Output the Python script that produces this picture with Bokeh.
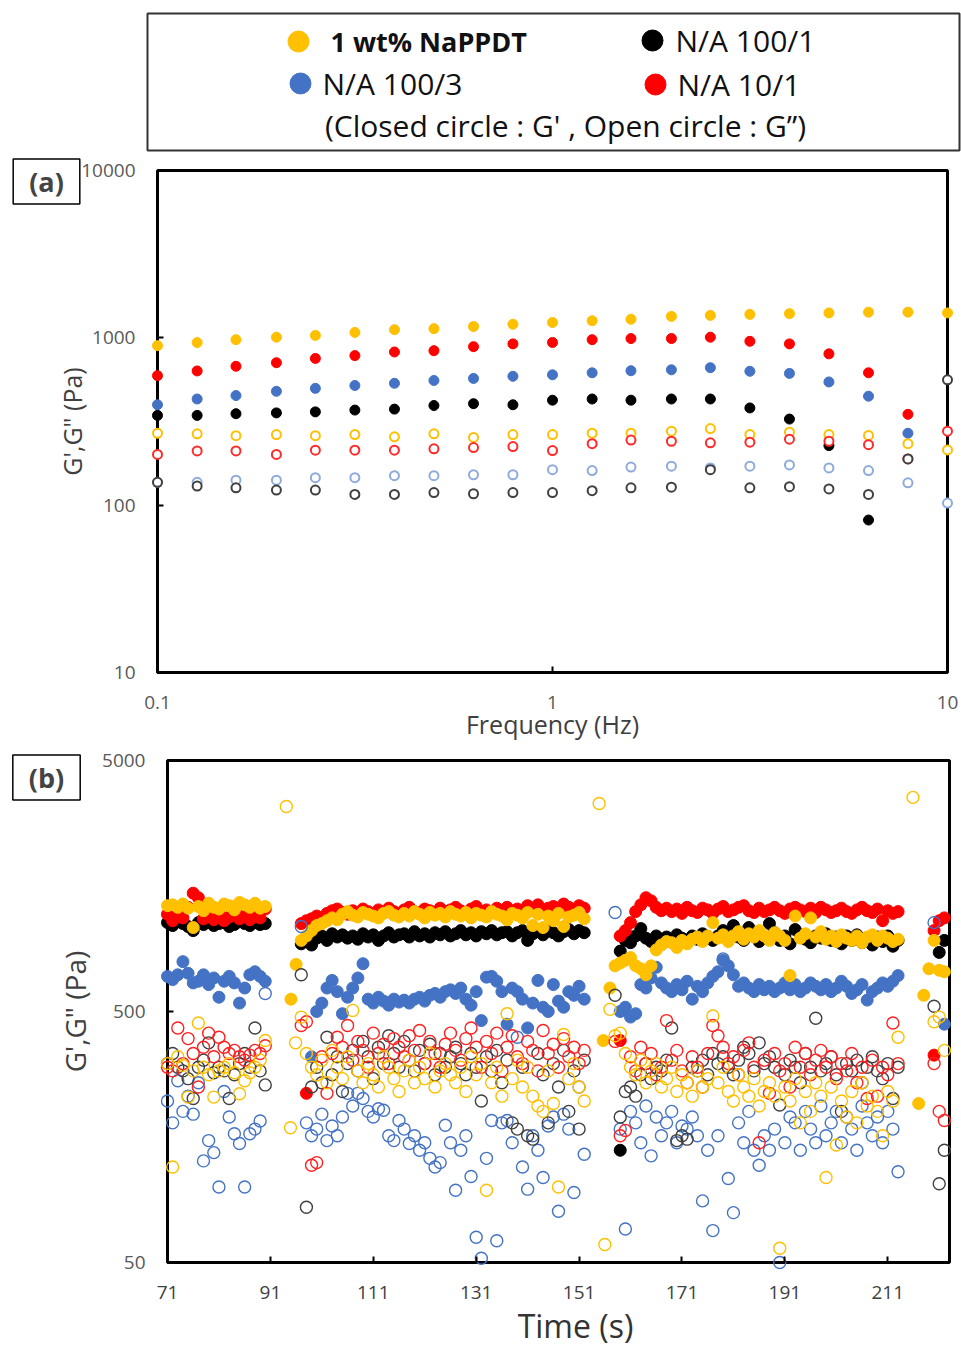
import math
from bokeh.plotting import figure
from bokeh.layouts import column
from bokeh.models import Range1d, FixedTicker, BoxAnnotation, Label
from bokeh.core.properties import value
from bokeh.embed import file_html
from bokeh.resources import INLINE

nan = float("nan")
FONT = "Open Sans"

# ---------------- legend ----------------
SERIES = ["1 wt% NaPPDT", "N/A 100/1", "N/A 100/3", "N/A 10/1"]
COLORS = ["#FFC000", "#000000", "#4472C4", "#FF0000"]
NOTE = "(Closed circle : G' , Open circle : G\u201d)"

# ---------------- panel (a): frequency sweep ----------------
FREQ = [0.1, 0.126, 0.158, 0.2, 0.251, 0.316, 0.398, 0.501, 0.631, 0.794, 1.0,
        1.26, 1.58, 2.0, 2.51, 3.16, 3.98, 5.01, 6.31, 7.94, 10.0]
A_YEL_G1 = [898, 937, 975, 1009, 1034, 1077, 1119, 1135, 1169, 1205, 1235, 1265, 1291, 1343, 1362, 1381, 1395, 1409, 1424, 1424, 1409]
A_RED_G1 = [594, 634, 676, 710, 753, 783, 823, 838, 885, 920, 938, 975, 990, 990, 1009, 953, 920, 802, 618, 349, nan]
A_BLU_G1 = [398, 431, 452, 479, 499, 519, 535, 556, 572, 589, 601, 618, 636, 644, 663, 631, 613, 545, 448, 269, nan]
A_BLK_G1 = [344, 344, 352, 356, 361, 370, 375, 394, 404, 398, 424, 431, 424, 431, 431, 381, 327, 227, 81.5, nan, nan]
A_YEL_G2 = [269, 267, 260, 264, 260, 264, 256, 267, 254, 264, 264, 269, 269, 277, 287, 264, 273, 264, 261, 233, 214]
A_RED_G2 = [201, 211, 211, 201, 213, 213, 213, 217, 221, 224, 212, 233, 245, 241, 236, 238, 248, 241, 230, 189, 277]
A_BLU_G2 = [137, 137, 141, 141, 146, 146, 150, 150, 152, 152, 163, 161, 169, 171, 167, 171, 174, 167, 161, 136, 103]
A_BLK_G2 = [137, 130, 127, 123, 123, 116, 116, 119, 117, 119, 119, 122, 127, 128, 163, 127, 129, 125, 116, 189, 561]
A_XTICKS = [0.1, 1, 10]
A_YTICKS = [10, 100, 1000, 10000]

# ---------------- panel (b): time series ----------------
B_T = [71, 72, 73, 74, 75, 76, 77, 78, 79, 80, 81, 82, 83, 84, 85, 86, 87, 88, 89, 90,
       97, 98, 99, 100, 101, 102, 103, 104, 105, 106,
       107, 108, 109, 110, 111, 112, 113, 114, 115, 116,
       117, 118, 119, 120, 121, 122, 123, 124, 125, 126,
       127, 128, 129, 130, 131, 132, 133, 134, 135, 136,
       137, 138, 139, 140, 141, 142, 143, 144, 145, 146,
       147, 148, 149, 150, 151, 152,
       158, 159, 160, 161, 162, 163, 164, 165, 166, 167,
       168, 169, 170, 171, 172, 173, 174, 175, 176, 177,
       178, 179, 180, 181, 182, 183, 184, 185, 186, 187,
       188, 189, 190, 191, 192, 193, 194, 195, 196, 197,
       198, 199, 200, 201, 202, 203, 204, 205, 206, 207,
       208, 209, 210, 211, 212, 213,
       220, 221, 222]

B_YEL_G1 = [1320, 1330, 1300, 1340, 1290, 1080, 1310, 1260, 1350, 1300, 1280, 1340, 1320, 1270, 1360, 1330, 1300, 1350, 1290, 1310,
            960, 1000, 1050, 1100, 1120, 1150, 1180, 1160, 1220, 1250,
            1210, 1190, 1240, 1220, 1200, 1180, 1230, 1250, 1210, 1190,
            1230, 1200, 1250, 1220, 1180, 1240, 1210, 1230, 1190, 1250,
            1220, 1200, 1240, 1180, 1230, 1210, 1190, 1250, 1220, 1200,
            1160, 1230, 1210, 1180, 1240, 1100, 1220, 1080, 1200, 1150,
            1230, 1090, 1190, 1210, 1240, 1170,
            760, 780, 800, 820, 760, 740, 700, 760, 880, 920,
            950, 940, 900, 960, 930, 970, 990, 950, 1000, 1130,
            980, 1010, 950, 1000, 1040, 970, 1020, 990, 1050, 1000,
            960, 1030, 1000, 960, 695, 1200, 980, 1020, 1180, 990,
            1040, 970, 1000, 950, 1010, 980, 960, 1000, 940, 990,
            1010, 960, 1000, 980, 950, 970,
            960, 730, 720]
B_YEL_G1_XT = [95, 96, 155.7, 157, 217, 218, 219]
B_YEL_G1_XV = [560, 770, 383, 620, 215, 580, 740]

B_RED_G1 = [1220, 1150, 1250, 1180, 1300, 1480, 1420, 1170, 1200, 1160, 1230, 1150, 1190, 1240, 1170, 1210, 1160, 1250, 1180, 1280,
            1120, 1150, 1170, 1200, 1150, 1230, 1260, 1280, 1240, 1220,
            1260, 1230, 1280, 1250, 1220, 1270, 1240, 1290, 1250, 1230,
            1270, 1300, 1250, 1240, 1280, 1260, 1230, 1290, 1250, 1270,
            1300, 1260, 1240, 1280, 1310, 1250, 1270, 1240, 1290, 1260,
            1300, 1250, 1280, 1260, 1320, 1270, 1330, 1250, 1290, 1310,
            1280, 1340, 1300, 1270, 1320, 1290,
            nan, 1000, 1050, 1130, 1250, 1330, 1420, 1380, 1300, 1260,
            1290, 1250, 1280, 1230, 1300, 1260, 1240, 1290, 1270, 1230,
            1280, 1310, 1250, 1270, 1300, 1320, 1260, 1240, 1290, 1250,
            1270, 1300, 1260, 1230, 1280, 1300, 1270, 1250, 1290, 1240,
            1300, 1270, 1240, 1260, 1290, 1250, 1230, 1270, 1300, 1260,
            1240, 1280, 1150, 1260, 1230, 1250,
            1050, 1150, 1180]
B_RED_G1_XT = [98, 159, 220]
B_RED_G1_XV = [236, 383, 335]

B_BLK_G1 = [1130, 1100, 1140, 1120, 1090, 1050, 1130, 1110, 1140, 1100, 1120, 1130, 1090, 1110, 1140, 1120, 1100, 1130, 1110, 1120,
            930, 950, 920, 980, 1000, 960, 1020, 990, 1010, 980,
            1000, 970, 1020, 990, 1010, 960, 1000, 1030, 990, 1010,
            1020, 990, 1040, 1000, 1020, 990, 1030, 1010, 1040, 1000,
            1020, 1050, 1010, 1030, 1000, 1040, 1020, 1050, 1010, 1030,
            1040, 1000, 1030, 1050, 960, 1020, 1040, 1010, 1050, 1030,
            1000, 1040, 1060, 1020, 1050, 1030,
            nan, 870, 960, 940, 1000, 1070, 980, 950, 1000, 970,
            990, 960, 1010, 980, 950, 1000, 970, 1020, 990, 960,
            1000, 1050, 970, 1100, 990, 960, 1080, 1010, 950, 990,
            1120, 1030, 960, 1000, 930, 1060, 1010, 970, 940, 1000,
            980, 1020, 960, 990, 930, 1000, 960, 1010, 940, 980,
            920, 990, 950, 1000, 910, 960,
            nan, 860, 960]
B_BLK_G1_XT = [159]
B_BLK_G1_XV = [140]

B_BLU_G1 = [690, 670, 700, 790, 710, 650, 660, 700, 640, 680, 570, 660, 690, 650, 540, 620, 700, 720, 690, 660,
            nan, nan, 330, 500, 540, 620, 665, 600, 490, 570,
            620, 680, 775, 560, 540, 570, 550, 530, 560, 545,
            555, 540, 560, 570, 550, 580, 590, 570, 600, 610,
            590, 620, 560, 530, 600, 460, 685, 690, 660, 600,
            445, 620, 600, 560, 430, 540, 665, 520, 500, 640,
            550, 520, 600, 580, 630, 560,
            nan, 500, 520, 475, 490, 640, 620, 680, 750, 650,
            620, 600, 640, 610, 660, 560, 630, 600, 650, 690,
            720, 800, 760, 700, 630, 650, 620, 600, 640, 610,
            630, 600, 620, 650, 610, 640, 600, 620, 650, 630,
            610, 640, 600, 620, 660, 630, 590, 610, 640, 555,
            600, 620, 650, 630, 660, 695,
            nan, nan, 445]

B_YEL_G2 = [310, 120, 330, 305, 228, 290, 450, 300, 280, 228, 290, 300, 310, 285, 235, 265, 285, 300, 320, 383,
            475, 340, 300, 280, 320, 260, 350, 300, 270, 330,
            505, 290, 260, 310, 280, 250, 330, 300, 270, 240,
            290, 320, 260, 300, 270, 340, 250, 290, 310, 280,
            260, 300, 240, 330, 280, 310, 97, 260, 300, 230,
            490, 270, 320, 250, 300, 230, 210, 200, 290, 215,
            100, 405, 270, 310, 250, 220,
            400, 410, 340, 300, 280, 320, 260, 290, 310, 250,
            270, 300, 240, 280, 260, 230, 290, 250, 270, 480,
            260, 300, 240, 220, 280, 250, 230, 270, 210, 240,
            260, 230, 57, 250, 220, 270, 180, 240, 200, 260,
            230, 109, 250, 147, 220, 190, 240, 180, 260, 210,
            230, 200, 160, 240, 220, 395,
            455, 475, 350]
B_YEL_G2_XT = [94.1, 154.9, 215.9, 94.9, 95.9, 156, 157]
B_YEL_G2_XV = [3280, 3370, 3565, 172, 375, 59, 510]

B_RED_G2 = [300, 290, 430, 310, 390, 340, 250, 360, 410, 330, 395, 360, 340, 350, 330, 320, 335, 350, 340, 365,
            440, 455, 122, 125, 330, 236, 340, 395, 360, 440,
            320, 380, 350, 300, 410, 340, 370, 310, 390, 360,
            330, 400, 350, 420, 310, 380, 340, 300, 370, 410,
            350, 320, 390, 430, 360, 300, 380, 340, 410, 290,
            360, 400, 330, 310, 380, 350, 290, 420, 340, 370,
            300, 390, 330, 360, 310, 350,
            380, 160, 168, 330, 290, 360, 310, 340, 280, 300,
            460, 320, 350, 290, 260, 330, 300, 250, 340, 440,
            400, 360, 310, 330, 280, 350, 375, 300, 150, 320,
            236, 340, 290, 310, 250, 360, 300, 340, 280, 320,
            350, 300, 330, 270, 310, 290, 340, 260, 300, 225,
            320, 230, 300, 280, 450, 310,
            310, 200, 184]

B_BLK_G2 = [310, 340, 300, 290, 270, 225, 300, 320, 375, 285, 300, 290, 225, 280, 310, 340, 300, 430, 290, 255,
            700, 83, 250, 300, 260, 395, 280, 330, 240, 310,
            350, 290, 380, 330, 270, 360, 310, 400, 340, 300,
            380, 320, 290, 350, 310, 370, 280, 340, 300, 330,
            360, 310, 280, 340, 300, 220, 330, 290, 350, 260,
            320, 180, 170, 300, 160, 155, 340, 280, 180, 310,
            250, 350, 200, 290, 170, 320,
            580, 190, 240, 250, 230, 280, 310, 270, 300, 290,
            320, 430, 153, 160, 155, 300, 290, 320, 280, 340,
            310, 330, 300, 280, 320, 360, 340, 290, 375, 310,
            330, 300, 212, 280, 320, 300, 260, 340, 300, 470,
            290, 310, 330, 280, 200, 310, 290, 320, 260, 300,
            330, 290, 270, 310, 225, 300,
            525, 103, 140]

B_BLU_G2 = [220, 180, 265, 200, 230, 195, 260, 127, 153, 137, 100, 240, 190, 163, 149, 100, 163, 170, 183, 590,
            1090, 180, 160, 170, 195, 153, 175, 160, 190, 236,
            210, 236, 225, 200, 190, 205, 202, 160, 153, 184,
            170, 149, 160, 140, 150, 130, 120, 125, 176, 150,
            97, 140, 160, 110, 63, 52, 130, 184, 61, 180,
            184, 150, 395, 120, 98, 160, 140, 109, 175, 190,
            80, 195, 170, 95, 250, 135,
            1240, 170, 68, 200, 180, 150, 210, 133, 190, 160,
            180, 200, 150, 175, 170, 190, 160, 88, 140, 67,
            160, 810, 108, 79, 180, 150, 200, 140, 122, 160,
            140, 170, 50, 150, 190, 180, 140, 200, 170, 150,
            210, 160, 180, 200, 150, 190, 170, 140, 210, 180,
            160, 190, 150, 200, 170, 115,
            1130, nan, nan]

B_XTICKS = [71, 91, 111, 131, 151, 171, 191, 211]
B_XMAX = 223
B_YTICKS = [50, 500, 5000]


def series(name, vals, xt=(), xv=()):
    if len(vals) != len(B_T):
        raise ValueError("%s has %d values, expected %d" % (name, len(vals), len(B_T)))
    return list(B_T) + list(xt), list(vals) + list(xv)


def style_axis(ax, tick_color, standoff):
    ax.axis_line_color = None
    ax.major_tick_in = 6
    ax.major_tick_out = 0
    ax.major_tick_line_color = "black"
    ax.major_tick_line_width = 2
    ax.minor_tick_line_color = None
    ax.major_label_text_font = FONT
    ax.major_label_text_font_size = "19px"
    ax.major_label_text_color = tick_color
    ax.major_label_standoff = standoff
    ax.axis_label_text_font = FONT
    ax.axis_label_text_font_style = "normal"
    ax.axis_label_text_color = "#404040"


W = 961
# page geometry (px): legend 0-155, panel a 155-745, panel b 745-1347
LEG_H, A_TOP, A_BOT, B_BOT = 155, 155, 745, 1347

# ---------- legend figure ----------
pl = figure(width=W, height=LEG_H, x_range=Range1d(0, W), y_range=Range1d(LEG_H, 0),
            x_axis_type=None, y_axis_type=None, min_border=0,
            output_backend="svg", toolbar_location=None)
pl.outline_line_color = None
pl.quad(left=[147], right=[959], top=[13], bottom=[150], fill_color=None,
        line_color="#333333", line_width=2)
LEG_MX = [298, 652, 300, 655]
LEG_MY = [41, 40, 83, 84]
LEG_TX = [330, 675, 322, 677]
pl.scatter(LEG_MX, LEG_MY, size=21, fill_color=COLORS, line_color=COLORS)
pl.text([LEG_TX[0]], [LEG_MY[0]], text=[SERIES[0]], text_font=value(FONT), text_font_size="27px",
        text_font_style="bold", text_baseline="middle", text_color="#111111")
pl.text(LEG_TX[1:], LEG_MY[1:], text=SERIES[1:], text_font=value(FONT), text_font_size="30px",
        text_baseline="middle", text_color="#111111")
pl.text([565], [125], text=[NOTE], text_font=value(FONT), text_font_size="30px",
        text_align="center", text_baseline="middle", text_color="#111111")

# ---------- panel (a) ----------
# drawn border: x 157..947 (0.1..10), y 170..672 (10000..10)
apx = (947 - 157) / 2.0
apy = (672 - 170) / 3.0
pa = figure(width=W, height=A_BOT - A_TOP, x_axis_type="log", y_axis_type="log",
            x_range=Range1d(10 ** (-1 - 157 / apx), 10 ** (1 + (W - 947) / apx)),
            y_range=Range1d(10 ** (1 - (A_BOT - 672) / apy), 10 ** (4 + (170 - A_TOP) / apy)),
            min_border=0, output_backend="svg", toolbar_location=None)
pa.outline_line_color = None
pa.xgrid.visible = False
pa.ygrid.visible = False
pa.add_layout(BoxAnnotation(left=A_XTICKS[0], right=A_XTICKS[-1], bottom=A_YTICKS[0], top=A_YTICKS[-1],
                            fill_color=None, line_color="black", line_alpha=1.0, line_width=3,
                            level="underlay"))
pa.xaxis.ticker = FixedTicker(ticks=A_XTICKS)
pa.yaxis.ticker = FixedTicker(ticks=A_YTICKS)
pa.xaxis.major_label_overrides = {t: str(t) for t in A_XTICKS}
pa.yaxis.major_label_overrides = {t: str(t) for t in A_YTICKS}
pa.xaxis.fixed_location = A_YTICKS[0]
pa.yaxis.fixed_location = A_XTICKS[0]
pa.xaxis.bounds = (A_XTICKS[0], A_XTICKS[-1])
pa.yaxis.bounds = (A_YTICKS[0], A_YTICKS[-1])
style_axis(pa.xaxis[0], "#595959", 23)
style_axis(pa.yaxis[0], "#595959", 22)
pa.xaxis.axis_label = "Frequency (Hz)"
pa.xaxis.axis_label_text_font_size = "25px"
pa.xaxis.axis_label_standoff = -5
pa.yaxis.axis_label = "G',G\" (Pa)"
pa.yaxis.axis_label_text_font_size = "25px"
pa.yaxis.axis_label_standoff = -11

A_CLOSED = [(A_BLK_G1, "#000000"), (A_BLU_G1, "#4472C4"), (A_RED_G1, "#FF0000"), (A_YEL_G1, "#FFC000")]
A_OPEN = [(A_YEL_G2, "#FFC000"), (A_RED_G2, "#FF2A2A"), (A_BLU_G2, "#8FAADC"), (A_BLK_G2, "#404040")]
for vals, c in A_CLOSED:
    pa.scatter(FREQ, vals, size=10, fill_color=c, line_color=c)
for vals, c in A_OPEN:
    pa.scatter(FREQ, vals, size=9, fill_color="white", line_color=c, line_width=2)

pa.add_layout(Label(x=46, y=A_BOT - 181, x_units="screen", y_units="screen", text="(a)",
                    text_font=FONT, text_font_size="27px", text_font_style="bold",
                    text_align="center", text_baseline="middle",
                    border_line_color="black", border_line_width=1.5,
                    background_fill_color="white", padding=(16, 4)))

# ---------- panel (b) ----------
# drawn border: x 167..949 (71..223), y 760..1262 (5000..50)
bpx = (949 - 167) / float(B_XMAX - B_XTICKS[0])
bpy = (1262 - 760) / 2.0
pb = figure(width=W, height=B_BOT - A_BOT, y_axis_type="log",
            x_range=Range1d(B_XTICKS[0] - 167 / bpx, B_XMAX + (W - 949) / bpx),
            y_range=Range1d(10 ** (math.log10(50) - (B_BOT - 1262) / bpy),
                            10 ** (math.log10(5000) + (760 - A_BOT) / bpy)),
            min_border=0, output_backend="svg", toolbar_location=None)
pb.outline_line_color = None
pb.xgrid.visible = False
pb.ygrid.visible = False
pb.add_layout(BoxAnnotation(left=B_XTICKS[0], right=B_XMAX, bottom=B_YTICKS[0], top=B_YTICKS[-1],
                            fill_color=None, line_color="black", line_alpha=1.0, line_width=3,
                            level="underlay"))
pb.xaxis.ticker = FixedTicker(ticks=B_XTICKS)
pb.yaxis.ticker = FixedTicker(ticks=B_YTICKS)
pb.yaxis.major_label_overrides = {t: str(t) for t in B_YTICKS}
pb.xaxis.fixed_location = B_YTICKS[0]
pb.yaxis.fixed_location = B_XTICKS[0]
pb.xaxis.bounds = (B_XTICKS[0], B_XMAX)
pb.yaxis.bounds = (B_YTICKS[0], B_YTICKS[-1])
style_axis(pb.xaxis[0], "#404040", 23)
style_axis(pb.yaxis[0], "#595959", 22)
pb.yaxis.axis_label = "G',G\" (Pa)"
pb.yaxis.axis_label_text_font_size = "28px"
pb.yaxis.axis_label_standoff = 5

B_CLOSED = [("B_BLK_G1", B_BLK_G1, B_BLK_G1_XT, B_BLK_G1_XV, "#000000"),
            ("B_BLU_G1", B_BLU_G1, [], [], "#4472C4"),
            ("B_RED_G1", B_RED_G1, B_RED_G1_XT, B_RED_G1_XV, "#FF0000"),
            ("B_YEL_G1", B_YEL_G1, B_YEL_G1_XT, B_YEL_G1_XV, "#FFC000")]
B_OPEN = [("B_BLU_G2", B_BLU_G2, [], [], "#4472C4"),
          ("B_BLK_G2", B_BLK_G2, [], [], "#404040"),
          ("B_RED_G2", B_RED_G2, [], [], "#FF2020"),
          ("B_YEL_G2", B_YEL_G2, B_YEL_G2_XT, B_YEL_G2_XV, "#FFC000")]
for name, vals, xt, xv, c in B_CLOSED:
    t, v = series(name, vals, xt, xv)
    pb.scatter(t, v, size=12, fill_color=c, line_color=c)
for name, vals, xt, xv, c in B_OPEN:
    t, v = series(name, vals, xt, xv)
    pb.scatter(t, v, size=12, fill_color=None, line_color=c, line_width=1.4)

pb.add_layout(Label(x=46, y=B_BOT - 777, x_units="screen", y_units="screen", text="(b)",
                    text_font=FONT, text_font_size="27px", text_font_style="bold",
                    text_align="center", text_baseline="middle",
                    border_line_color="black", border_line_width=1.5,
                    background_fill_color="white", padding=(16, 4)))
pb.add_layout(Label(x=575, y=B_BOT - 1325, x_units="screen", y_units="screen", text="Time (s)",
                    text_font=FONT, text_font_size="32px", text_color="#333333",
                    text_align="center", text_baseline="middle"))

layout = column(pl, pa, pb, spacing=0)
open("out.html", "w").write(file_html(layout, INLINE))
